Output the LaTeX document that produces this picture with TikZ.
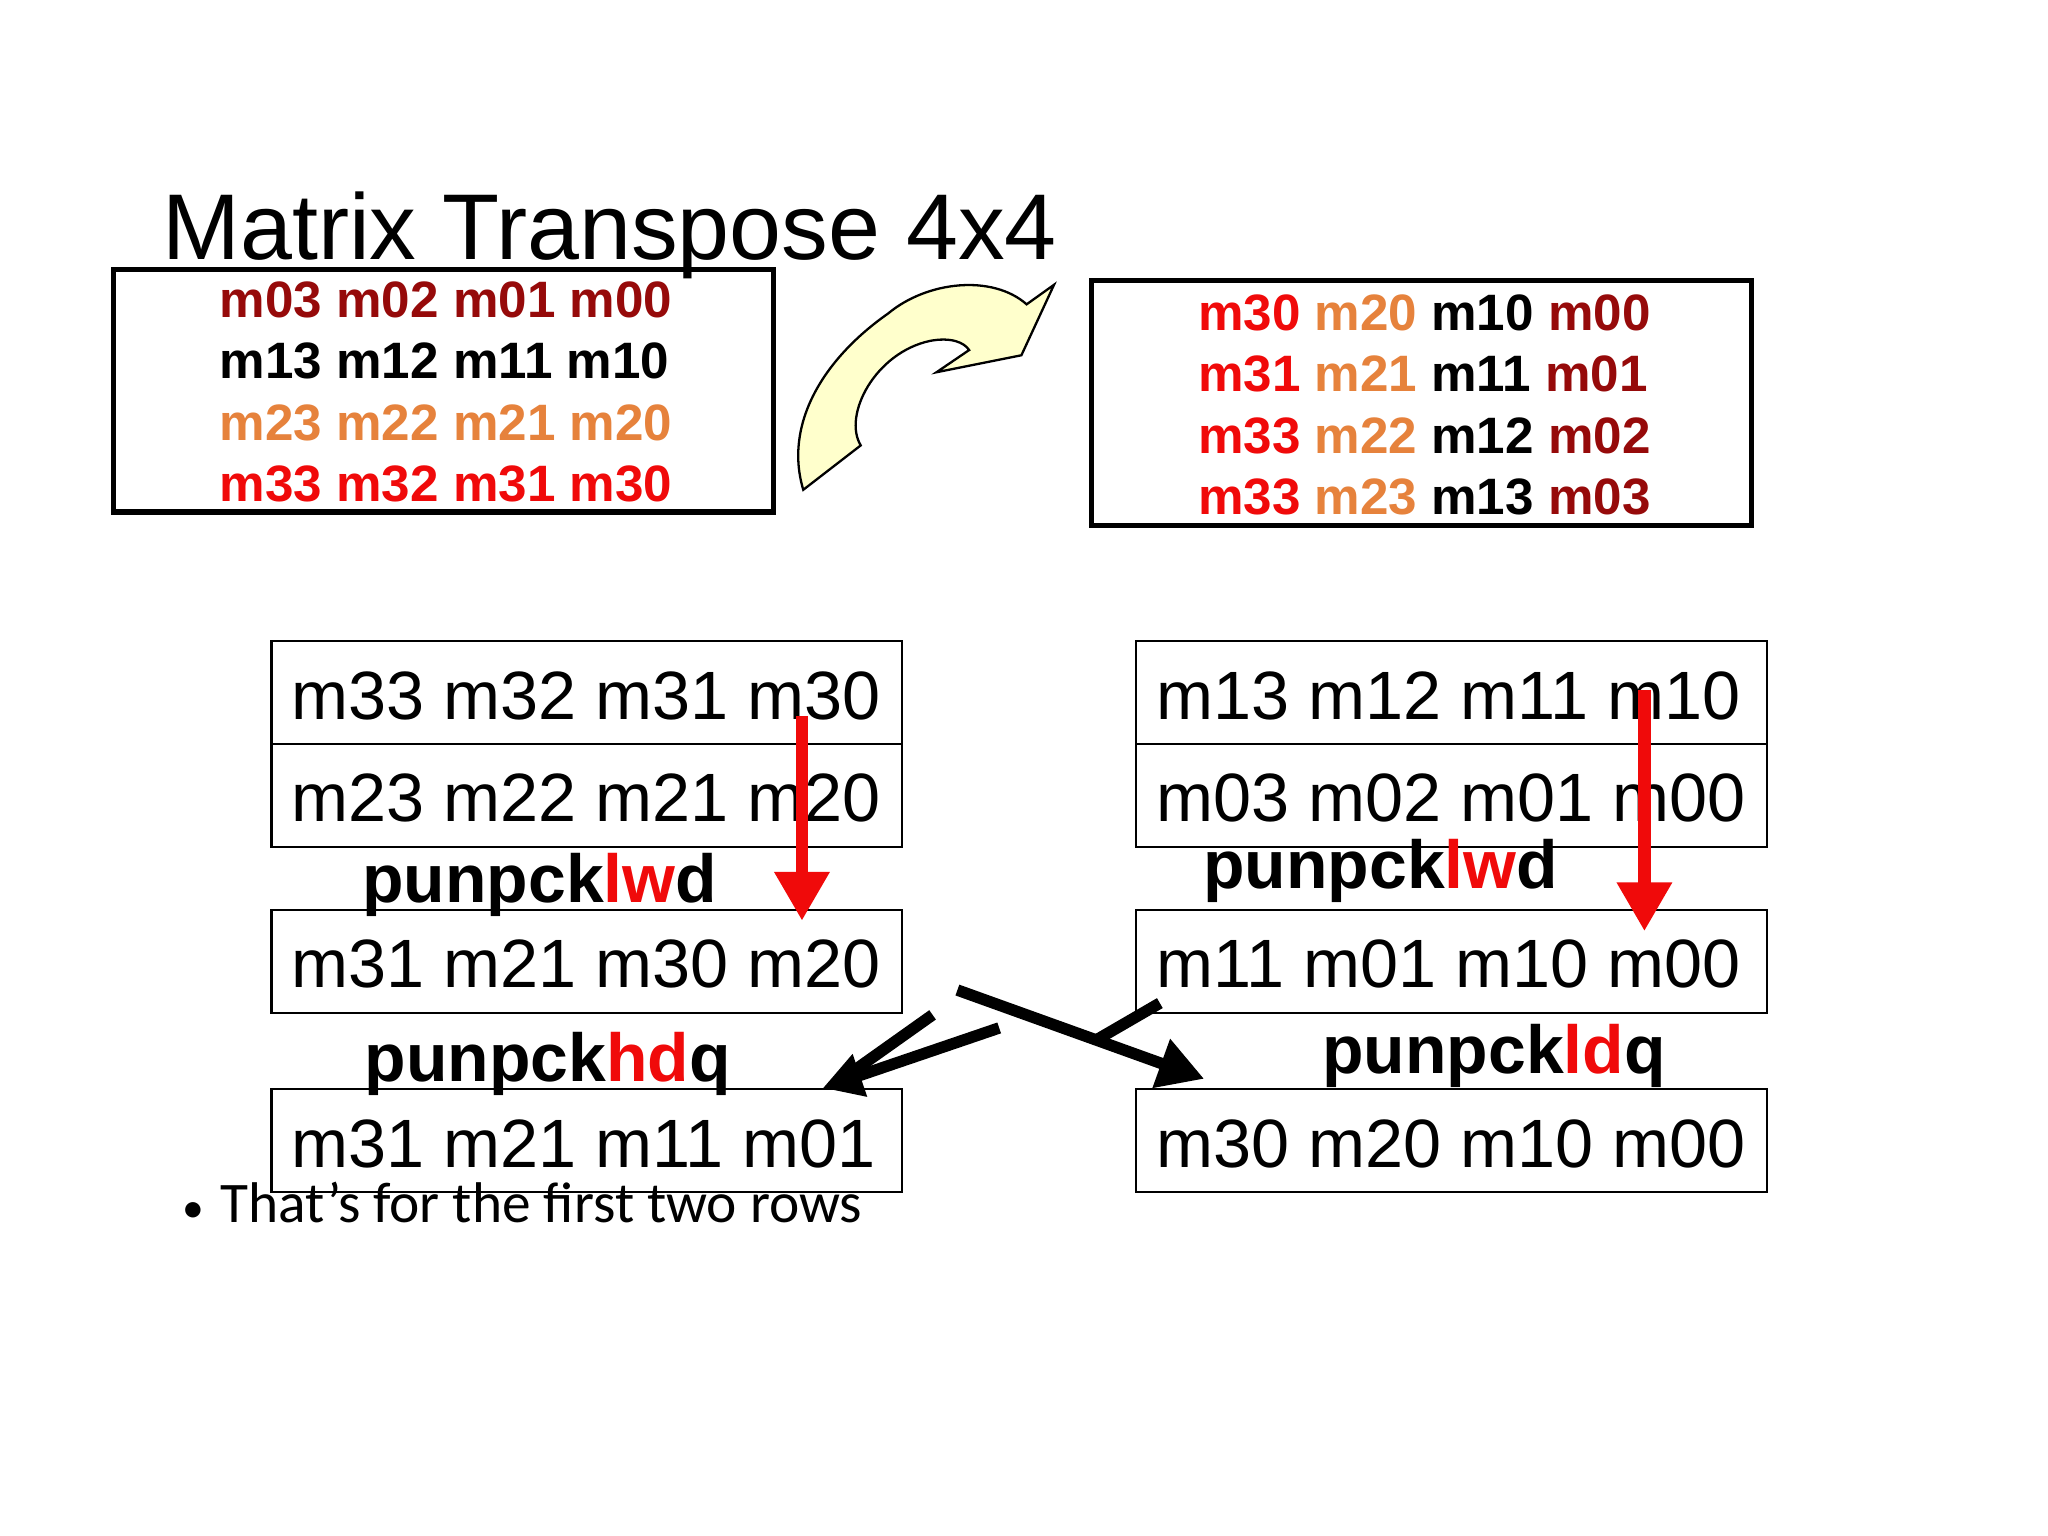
\documentclass[tikz,border=0pt]{standalone}
\usepackage{fontspec}
\setmainfont{Liberation Sans}
\newfontfamily\cali{Carlito}
\usetikzlibrary{arrows.meta}
\definecolor{dred}{RGB}{150,10,10}
\definecolor{org}{RGB}{230,130,60}
\definecolor{rd}{RGB}{240,10,10}
\definecolor{cream}{RGB}{255,255,204}
\begin{document}
\begin{tikzpicture}[x=0.02cm,y=-0.02cm,
  mb/.style={font=\fontsize{22.3}{26}\selectfont\bfseries, anchor=base west, inner sep=0},
  cell/.style={draw, line width=1pt, minimum width=9.66cm, minimum height=1.57cm, inner sep=0, anchor=north west},
  ct/.style={font=\fontsize{29.8}{34}\selectfont, anchor=base west, inner sep=0},
  op/.style={font=\fontsize{29.6}{33}\selectfont\bfseries, anchor=base west, inner sep=0},
  ra/.style={rd, line width=5.5pt, -{Triangle[length=0.75cm,width=0.8cm]}},
  ba/.style={black, line width=5pt},
]
\useasboundingbox[fill=white] (0,0) rectangle (1568,1176);
\node[font=\fontsize{40.7}{46}\selectfont, anchor=base west, inner sep=0] (title) at (124,199) {Matrix Transpose 4x4};
% left matrix box
\draw[line width=2.2pt] (87,206) rectangle (592,392);
\node[mb, text=dred] (l1) at (168,243) {m03 m02 m01 m00};
\node[mb] (l2) at (168,290) {m13 m12 m11 m10};
\node[mb, text=org] (l3) at (168,337) {m23 m22 m21 m20};
\node[mb, text=rd] (l4) at (168,384) {m33 m32 m31 m30};
% right matrix box
\draw[line width=2.2pt] (836,215) rectangle (1341,402);
\foreach \a/\b/\c/\d/\yy [count=\i] in {30/20/10/00/253, 31/21/11/01/300, 33/22/12/02/347, 33/23/13/03/394}{
  \node[mb] (r\i) at (917,\yy) {\textcolor{rd}{m\a} \textcolor{org}{m\b} m\c{} \textcolor{dred}{m\d}};
}
% curved arrow
\draw[fill=cream, line width=1pt]
  (615,375) -- (659,341)
  .. controls (645,318) and (670,270) .. (712,261)
  .. controls (728,258) and (738,262) .. (742,268)
  -- (717,285) -- (782,272) -- (807,218) -- (786,233)
  .. controls (760,210) and (710,215) .. (680,240)
  .. controls (630,275) and (600,325) .. (615,375) -- cycle;
% cells
\node[cell] (a1) at (207,490) {};
\node[cell] (a2) at (207,569) {};
\node[cell] (a3) at (207,696) {};
\node[cell] (a4) at (207,833) {};
\node[cell] (b1) at (869,490) {};
\node[cell] (b2) at (869,569) {};
\node[cell] (b3) at (869,696) {};
\node[cell] (b4) at (869,833) {};
\node[ct] (ta1) at (223,551) {m33 m32 m31 m30};
\node[ct] (ta2) at (223,629) {m23 m22 m21 m20};
\node[ct] (ta3) at (223,756) {m31 m21 m30 m20};
\node[ct] (ta4) at (223,894) {m31 m21 m11 m01};
\node[ct] (tb1) at (885,551) {m13 m12 m11 m10};
\node[ct] (tb2) at (885,629) {m03 m02 m01 m00};
\node[ct] (tb3) at (885,756) {m11 m01 m10 m00};
\node[ct] (tb4) at (885,894) {m30 m20 m10 m00};
% op labels
\node[op] (o1) at (277,691) {punpck\textcolor{rd}{lw}d};
\node[op] (o2) at (921,680) {punpck\textcolor{rd}{lw}d};
\node[op] (o3) at (279,828) {punpck\textcolor{rd}{hd}q};
\node[op] (o4) at (1012,822) {punpck\textcolor{rd}{ld}q};
% red arrows
\coordinate (ra1) at (614,548); \coordinate (ra2) at (614,705);
\coordinate (rb1) at (1259,528); \coordinate (rb2) at (1259,713);
\draw[ra] (ra1) -- (ra2);
\draw[ra] (rb1) -- (rb2);
% black arrows
\coordinate (x1) at (733,758); \coordinate (x2) at (922,826);
\coordinate (y1) at (888,768); \coordinate (y2) at (838,797);
\coordinate (z1) at (765,787); \coordinate (z2) at (630,833);
\coordinate (w1) at (714,777); \coordinate (w2) at (652,821);
\draw[ba, -{Triangle[length=0.7cm,width=0.75cm]}] (x1) -- (x2);
\draw[ba] (y1) -- (y2);
\draw[ba, -{Triangle[length=0.6cm,width=0.65cm]}] (z1) -- (z2);
\draw[ba] (w1) -- (w2);
% bullet
\node[font=\cali\fontsize{25}{30}\selectfont, anchor=base west, inner sep=0] (bul) at (139,936) {{\fontsize{19}{20}\selectfont•}\hspace{0.3em}That’s for the first two rows};
\end{tikzpicture}
\end{document}
